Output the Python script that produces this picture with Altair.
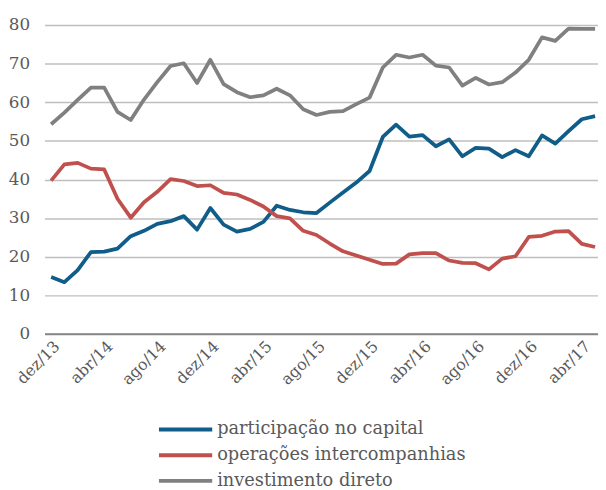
import altair as alt
import pandas as pd

months = ["dez/13", "jan/14", "fev/14", "mar/14", "abr/14", "mai/14", "jun/14", "jul/14",
          "ago/14", "set/14", "out/14", "nov/14", "dez/14", "jan/15", "fev/15", "mar/15",
          "abr/15", "mai/15", "jun/15", "jul/15", "ago/15", "set/15", "out/15", "nov/15",
          "dez/15", "jan/16", "fev/16", "mar/16", "abr/16", "mai/16", "jun/16", "jul/16",
          "ago/16", "set/16", "out/16", "nov/16", "dez/16", "jan/17", "fev/17", "mar/17",
          "abr/17", "mai/17"]

participacao = [14.7, 13.4, 16.5, 21.2, 21.3, 22.1, 25.3, 26.7, 28.5, 29.2, 30.5, 27.0,
                32.6, 28.3, 26.5, 27.2, 29.0, 33.2, 32.1, 31.5, 31.3, 34.0, 36.6, 39.2,
                42.2, 51.0, 54.2, 51.1, 51.5, 48.6, 50.4, 46.0, 48.2, 48.0, 45.8, 47.6,
                46.0, 51.4, 49.3, 52.5, 55.6, 56.4]

operacoes = [39.7, 43.9, 44.3, 42.8, 42.6, 35.0, 30.1, 34.1, 36.8, 40.1, 39.6, 38.3,
             38.5, 36.5, 36.1, 34.7, 33.0, 30.5, 29.9, 26.7, 25.6, 23.4, 21.4, 20.3,
             19.2, 18.1, 18.2, 20.6, 20.9, 20.9, 19.0, 18.4, 18.3, 16.7, 19.5, 20.1,
             25.1, 25.4, 26.5, 26.6, 23.3, 22.5]

investimento = [54.3, 57.3, 60.6, 63.8, 63.8, 57.5, 55.4, 60.7, 65.2, 69.4, 70.1, 65.0,
                71.0, 64.7, 62.6, 61.3, 61.8, 63.5, 61.8, 58.2, 56.7, 57.5, 57.7, 59.5,
                61.2, 69.0, 72.3, 71.6, 72.3, 69.5, 69.0, 64.3, 66.3, 64.6, 65.2, 67.7,
                71.0, 76.8, 75.9, 79.1, 79.0, 79.0]

series_names = ["participação no capital", "operações intercompanhias", "investimento direto"]
series_colors = ["#0f5d88", "#c0504d", "#808080"]
tick_idx = list(range(0, 41, 4))

rows = []
for name, vals in zip(series_names, [participacao, operacoes, investimento]):
    for i, v in enumerate(vals):
        rows.append({"idx": i, "mes": months[i], "serie": name, "valor": v})
df = pd.DataFrame(rows)
df_leg = pd.DataFrame({"serie": series_names})

label_js = "[" + ",".join("'" + m + "'" for m in months) + "][datum.value]"
FONT = "DejaVu Serif"
TXT = "#595959"

color_enc = alt.Color("serie:N",
                      scale=alt.Scale(domain=series_names, range=series_colors),
                      legend=None)

lines = alt.Chart(df).mark_line(strokeWidth=3.8, strokeJoin="round").encode(
    x=alt.X("idx:Q",
            scale=alt.Scale(domain=[-0.5, 41.22], nice=False, zero=False),
            axis=alt.Axis(values=tick_idx, labelExpr=label_js, ticks=False,
                          labelAngle=315, labelAlign="right", labelBaseline="top",
                          grid=False, domainColor="#868686", domainWidth=2,
                          labelPadding=4, labelFont=FONT, labelFontSize=16,
                          labelColor=TXT, title=None, zindex=1, labelFlush=False,
                          labelOverlap=False, labelBound=False)),
    y=alt.Y("valor:Q",
            scale=alt.Scale(domain=[0, 80], nice=False),
            axis=alt.Axis(values=list(range(0, 81, 10)), domain=False, ticks=False,
                          gridColor="#bfbfbf", gridWidth=1.5, labelPadding=15,
                          labelFont=FONT, labelFontSize=17, labelColor=TXT, title=None)),
    color=color_enc,
    order="idx:Q",
)

leg_y = alt.Y("serie:N",
              scale=alt.Scale(type="point", domain=series_names, range=[410, 462], padding=0),
              axis=None)

leg_rules = alt.Chart(df_leg).mark_rule(strokeWidth=4).encode(
    y=leg_y, x=alt.value(116), x2=alt.value(170), color=color_enc)

leg_text = alt.Chart(df_leg).mark_text(align="left", baseline="middle", font=FONT,
                                       fontSize=18, color=TXT).encode(
    y=leg_y, x=alt.value(175), text="serie:N")

chart = alt.layer(lines, leg_rules, leg_text).resolve_scale(y="independent").properties(
    width=561, height=313,
    autosize=alt.AutoSizeParams(type="none"),
    padding={"left": 37, "top": 14, "right": 0, "bottom": 157},
).configure_view(stroke=None)

chart.save("out.html", embed_options={"renderer": "svg", "actions": False})
